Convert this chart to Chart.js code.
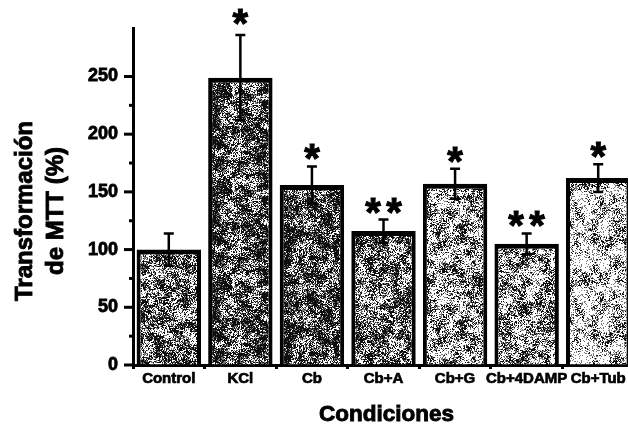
<!DOCTYPE html>
<html>
<head>
<meta charset="utf-8">
<script src="https://cdn.jsdelivr.net/npm/chart.js@4.4.0/dist/chart.umd.min.js"></script>
<style>
  html, body { margin: 0; padding: 0; background: #fff; overflow: hidden; }
  #wrap { width: 640px; height: 427px; }
</style>
</head>
<body>
<div id="wrap"><canvas id="chart" width="640" height="427"></canvas></div>
<script>
// data
const categories = ['Control', 'KCl', 'Cb', 'Cb+A', 'Cb+G', 'Cb+4DAMP', 'Cb+Tub'];
const means = [100, 249, 156, 116, 157, 105, 162];
const errors = [14, 37, 16, 10, 13, 9, 12];
const marks = ['', '*', '*', '**', '*', '**', '*'];
const yTicks = [0, 50, 100, 150, 200, 250];
const yTitle = ['Transformación', 'de MTT (%)'];
const xTitle = 'Condiciones';

const FONT = '"Liberation Sans", Arial, sans-serif';

// deterministic speckle texture for the bars (looks like the scanned stipple)
function hash(x, y, s) {
  let h = (x * 374761393 + y * 668265263 + s * 1442695041) | 0;
  h = Math.imul(h ^ (h >>> 13), 1274126177);
  h = h ^ (h >>> 16);
  return (h >>> 0) / 4294967296;
}
function blobNoise(x, y, size, n, seed) {
  const gx = x / size, gy = y / size;
  const x0 = Math.floor(gx), y0 = Math.floor(gy);
  const fx = gx - x0, fy = gy - y0;
  const h = (i, j) => hash(((i % n) + n) % n, ((j % n) + n) % n, seed);
  const a = h(x0, y0), b = h(x0 + 1, y0), c = h(x0, y0 + 1), d = h(x0 + 1, y0 + 1);
  return (a * (1 - fx) + b * fx) * (1 - fy) + (c * (1 - fx) + d * fx) * fy;
}
function stipple(seed, density) {
  const S = 96;
  const c = document.createElement('canvas');
  c.width = c.height = S;
  const g = c.getContext('2d');
  const img = g.createImageData(S, S);
  for (let y = 0; y < S; y++) {
    for (let x = 0; x < S; x++) {
      const v = 0.55 * hash(x, y, seed) + 0.45 * blobNoise(x, y, 6, S / 6, seed + 7);
      let col = 255;
      if (v < density - 0.08) col = 15;
      else if (v < density + 0.04) col = 120;
      const k = (y * S + x) * 4;
      img.data[k] = img.data[k + 1] = img.data[k + 2] = col;
      img.data[k + 3] = 255;
    }
  }
  g.putImageData(img, 0, 0);
  return g.createPattern(c, 'repeat');
}
const shade = [0.54, 0.6, 0.6, 0.54, 0.5, 0.48, 0.42];
const fills = shade.map((d, i) => stipple(i + 3, d));

// heavy bold text: fill plus a thin stroke
function heavyText(ctx, text, x, y, w) {
  ctx.lineWidth = w;
  ctx.strokeText(text, x, y);
  ctx.fillText(text, x, y);
}

// ticks on the y axis: long at labelled values, short in between
const yTickMarks = {
  id: 'yTickMarks',
  afterDraw(chart) {
    const { ctx, scales: { y } } = chart;
    ctx.save();
    ctx.strokeStyle = '#000';
    ctx.lineWidth = 3;
    y.ticks.forEach(t => {
      if (t.value % 25 !== 0) return;
      const py = y.getPixelForValue(t.value);
      const len = yTicks.includes(t.value) ? 9 : 4;
      ctx.beginPath();
      ctx.moveTo(y.right - len, py);
      ctx.lineTo(y.right, py);
      ctx.stroke();
    });
    ctx.restore();
  }
};

// error bars and significance asterisks
const errorBars = {
  id: 'errorBars',
  afterDatasetsDraw(chart) {
    const { ctx, scales: { y } } = chart;
    const meta = chart.getDatasetMeta(0);
    ctx.save();
    ctx.strokeStyle = '#000';
    ctx.fillStyle = '#000';
    ctx.lineWidth = 2.5;
    meta.data.forEach((bar, i) => {
      const cx = bar.x;
      const top = y.getPixelForValue(means[i] + errors[i]);
      const bot = y.getPixelForValue(means[i] - errors[i]);
      ctx.lineWidth = 2.5;
      ctx.beginPath();
      ctx.moveTo(cx, top); ctx.lineTo(cx, bot);
      ctx.moveTo(cx - 5, top); ctx.lineTo(cx + 5, top);
      ctx.moveTo(cx - 5, bot); ctx.lineTo(cx + 5, bot);
      ctx.stroke();
      const n = marks[i].length;
      if (n) {
        ctx.font = 'bold 40px ' + FONT;
        ctx.textAlign = 'center';
        ctx.textBaseline = 'alphabetic';
        const m = ctx.measureText('*');
        const gap = i === 1 ? 10 : 6;
        const base = top - gap - m.actualBoundingBoxDescent;
        for (let k = 0; k < n; k++) {
          const sx = cx + (k - (n - 1) / 2) * 21;
          heavyText(ctx, '*', sx, base, 1);
        }
      }
    });
    ctx.restore();
  }
};

// titles: two-line y title and the x title
const titles = {
  id: 'titles',
  afterDraw(chart) {
    const { ctx, chartArea } = chart;
    ctx.save();
    ctx.fillStyle = '#000';
    ctx.strokeStyle = '#000';
    ctx.font = 'bold 24px ' + FONT;
    ctx.textAlign = 'center';
    ctx.textBaseline = 'alphabetic';
    [32, 63].forEach((bx, i) => {
      ctx.save();
      ctx.translate(bx, 211);
      ctx.rotate(-Math.PI / 2);
      heavyText(ctx, yTitle[i], 0, 0, 0.9);
      ctx.restore();
    });
    ctx.font = 'bold 22.5px ' + FONT;
    heavyText(ctx, xTitle, (chartArea.left + chartArea.right) / 2 + 3, 421, 0.9);
    ctx.restore();
  }
};

new Chart(document.getElementById('chart'), {
  type: 'bar',
  data: {
    labels: categories,
    datasets: [{
      data: means,
      backgroundColor: fills,
      borderColor: '#000',
      borderWidth: { top: 5, left: 4, right: 4, bottom: 0 },
      borderSkipped: 'start',
      barPercentage: 0.9,
      categoryPercentage: 1.0
    }]
  },
  options: {
    responsive: false,
    animation: false,
    devicePixelRatio: 1,
    layout: { padding: { top: 28, right: 6, left: 0, bottom: 0 } },
    plugins: { legend: { display: false }, tooltip: { enabled: false } },
    scales: {
      x: {
        grid: { offset: true, drawOnChartArea: false, color: '#000', lineWidth: 3, tickLength: 4 },
        border: { display: true, color: '#000', width: 3 },
        ticks: {
          color: '#000', padding: 1, autoSkip: false, maxRotation: 0,
          textStrokeColor: '#000', textStrokeWidth: 0.7,
          font: { family: FONT, weight: 'bold', size: 15 }
        },
        afterFit(scale) { scale.height = 62; }
      },
      y: {
        min: 0,
        max: 292,
        grid: { drawOnChartArea: false, color: 'rgba(0,0,0,0)', tickLength: 9 },
        border: { display: true, color: '#000', width: 3 },
        ticks: {
          stepSize: 25,
          autoSkip: false,
          padding: 6,
          color: '#000',
          textStrokeColor: '#000', textStrokeWidth: 0.8,
          font: { family: FONT, weight: 'bold', size: 18 },
          callback: v => (yTicks.includes(v) ? v : '')
        },
        afterFit(scale) { scale.width = 133; }
      }
    }
  },
  plugins: [yTickMarks, errorBars, titles]
});
</script>
</body>
</html>
